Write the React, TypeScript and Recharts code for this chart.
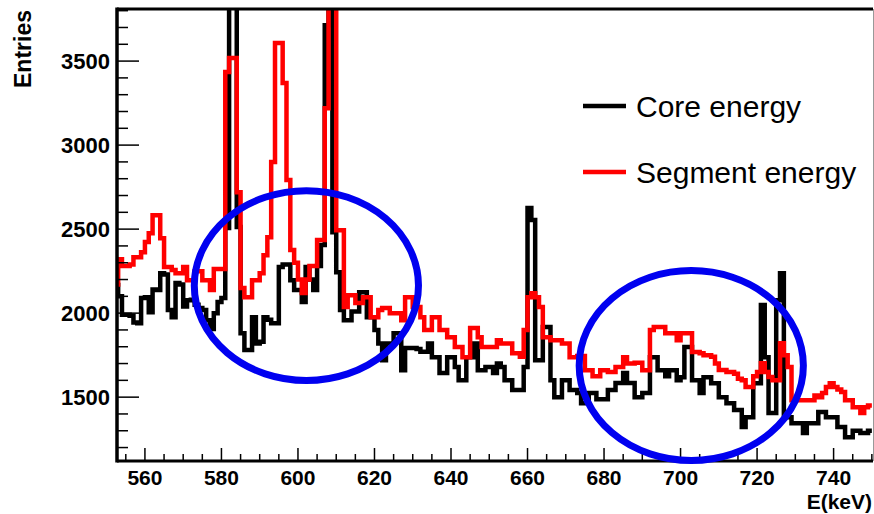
import { LineChart, Line, XAxis, YAxis } from 'recharts'

// 1 keV bins, first bin starts at BIN_LO
const BIN_LO = 552

const CORE = [
  2167, 2100, 1990, 1990, 1985, 1945, 1940, 2090, 2095, 2006,
  2140, 2137, 2238, 2230, 2018, 1976, 2179, 2170, 2040, 2077,
  2080, 2050, 2030, 2018, 1958, 1905, 2000, 2066, 2090, 2506,
  4300, 4300, 2512, 1880, 1780, 1780, 1976, 1820, 1830, 1976,
  1960, 1940, 1940, 2274, 2290, 2290, 2196, 2137, 2137, 2066,
  2274, 2200, 2137, 2280, 2405, 3714, 4300, 2482, 2244, 2018,
  1958, 1958, 2010, 2010, 2125, 2125, 1976, 1976, 1899, 1820,
  1720, 1820, 1820, 1880, 1880, 1660, 1792, 1792, 1792, 1786,
  1770, 1770, 1820, 1738, 1738, 1643, 1643, 1738, 1738, 1679,
  1601, 1601, 1738, 1738, 1820, 1660, 1660, 1680, 1680, 1643,
  1700, 1680, 1601, 1601, 1542, 1542, 1542, 1679, 2625, 2554,
  1720, 1720, 1917, 1917, 1601, 1500, 1500, 1601, 1601, 1542,
  1542, 1524, 1464, 1464, 1524, 1524, 1488, 1488, 1488, 1542,
  1542, 1584, 1584, 1643, 1584, 1584, 1500, 1500, 1524, 1524,
  1738, 1738, 1660, 1660, 1625, 1660, 1660, 1601, 1619, 1798,
  1798, 1601, 1601, 1524, 1619, 1619, 1583, 1583, 1500, 1500,
  1464, 1464, 1423, 1423, 1322, 1381, 1381, 1583, 1583, 2048,
  1738, 1405, 1405, 2077, 2238, 1381, 1381, 1345, 1345, 1345,
  1286, 1345, 1345, 1345, 1411, 1411, 1381, 1381, 1381, 1322,
  1322, 1262, 1262, 1300, 1300, 1286, 1286, 1300,
]

const SEGMENT = [
  2170, 2320, 2280, 2280, 2290, 2333, 2333, 2363, 2423, 2476,
  2583, 2583, 2446, 2274, 2274, 2256, 2238, 2238, 2274, 2196,
  2196, 2250, 2250, 2196, 2196, 2137, 2262, 2262, 2262, 3435,
  3518, 3518, 2720, 2150, 2095, 2095, 2196, 2196, 2238, 2345,
  2452, 2899, 3607, 3607, 3369, 2792, 2375, 2300, 2200, 2120,
  2200, 2280, 2280, 2435, 2435, 3220, 4300, 4300, 2494, 2494,
  2036, 2107, 2107, 2060, 2060, 2095, 2095, 1976, 1976, 2018,
  2030, 2030, 2000, 2000, 2000, 1958, 2095, 2095, 2036, 2036,
  1976, 1899, 1899, 1976, 1976, 1899, 1899, 1857, 1857, 1798,
  1798, 1738, 1738, 1911, 1911, 1857, 1798, 1798, 1798, 1798,
  1839, 1820, 1820, 1820, 1762, 1762, 1740, 1899, 2095, 2119,
  2095, 2036, 1857, 1857, 1839, 1839, 1839, 1820, 1820, 1738,
  1738, 1745, 1745, 1660, 1660, 1625, 1625, 1660, 1660, 1650,
  1650, 1679, 1679, 1738, 1700, 1700, 1705, 1705, 1660, 1660,
  1899, 1917, 1917, 1917, 1880, 1880, 1880, 1839, 1881, 1881,
  1881, 1768, 1768, 1762, 1750, 1750, 1740, 1700, 1661, 1661,
  1650, 1650, 1640, 1610, 1601, 1560, 1560, 1625, 1650, 1702,
  1650, 1620, 1600, 1600, 1821, 1750, 1679, 1482, 1482, 1482,
  1482, 1482, 1482, 1510, 1500, 1524, 1560, 1583, 1560, 1545,
  1530, 1482, 1482, 1440, 1440, 1405, 1440, 1450,
]

const X_TICKS = [
  555, 560, 565, 570, 575, 580, 585, 590, 595, 600, 605, 610, 615, 620,
  625, 630, 635, 640, 645, 650, 655, 660, 665, 670, 675, 680, 685, 690,
  695, 700, 705, 710, 715, 720, 725, 730, 735, 740, 745, 750,
]
const Y_TICKS = [
  1200, 1300, 1400, 1500, 1600, 1700, 1800, 1900, 2000, 2100, 2200, 2300, 2400,
  2500, 2600, 2700, 2800, 2900, 3000, 3100, 3200, 3300, 3400, 3500, 3600, 3700, 3800,
]

// circled regions: centre (keV, entries) and half-axes
const MARK_E = [602.2, 702.8]
const MARK_N = [2164, 1688]
const MARK_RX = 29.3
const MARK_RY = 565

const X_DOMAIN: [number, number] = [552.7, 750.3]
const Y_DOMAIN: [number, number] = [1120, 3810]

const W = 874
const H = 514
const L = 117
const T = 9
const R = 873
const B = 461

const FONT = '"Liberation Sans", Arial, Helvetica, sans-serif'

const px = (e: number) => L + ((e - X_DOMAIN[0]) / (X_DOMAIN[1] - X_DOMAIN[0])) * (R - L)
const py = (n: number) => T + ((Y_DOMAIN[1] - n) / (Y_DOMAIN[1] - Y_DOMAIN[0])) * (B - T)

const rows = CORE.map((c, i) => ({ e: BIN_LO + i, core: c, seg: SEGMENT[i] }))
rows.push({ e: BIN_LO + CORE.length, core: CORE[CORE.length - 1], seg: SEGMENT[SEGMENT.length - 1] })

function XTick(props: any) {
  const { x, y, payload } = props
  const major = payload.value % 20 === 0
  return (
    <g>
      <line x1={x} x2={x} y1={y} y2={y - (major ? 13 : 7)} stroke="#000" strokeWidth={1.5} />
      {major && (
        <text x={x} y={y + 24} textAnchor="middle" fontFamily={FONT} fontWeight="bold" fontSize={21} fill="#000">
          {payload.value}
        </text>
      )}
    </g>
  )
}

function YTick(props: any) {
  const { x, y, payload } = props
  const major = payload.value % 500 === 0
  return (
    <g>
      <line x1={x} x2={x + (major ? 22 : 11)} y1={y} y2={y} stroke="#000" strokeWidth={1.5} />
      {major && (
        <text x={x - 7} y={y + 8} textAnchor="end" fontFamily={FONT} fontWeight="bold" fontSize={22} fill="#000">
          {payload.value}
        </text>
      )}
    </g>
  )
}

export default function App() {
  return (
    <div style={{ position: 'absolute', left: 0, top: 0, width: W, height: H, background: '#fff' }}>
      <LineChart width={W} height={H} data={rows} margin={{ top: T, right: W - R, bottom: 0, left: 0 }}>
        <XAxis
          dataKey="e"
          type="number"
          domain={X_DOMAIN}
          allowDataOverflow
          ticks={X_TICKS}
          interval={0}
          tick={XTick}
          tickSize={0}
          tickMargin={0}
          tickLine={false}
          axisLine={false}
          height={H - B}
        />
        <YAxis
          type="number"
          domain={Y_DOMAIN}
          allowDataOverflow
          ticks={Y_TICKS}
          interval={0}
          tick={YTick}
          tickSize={0}
          tickMargin={0}
          tickLine={false}
          axisLine={false}
          width={L}
        />
        <Line type="stepAfter" dataKey="core" stroke="#000" strokeWidth={4.5} dot={false} isAnimationActive={false} />
        <Line type="stepAfter" dataKey="seg" stroke="#ff0000" strokeWidth={4.5} dot={false} isAnimationActive={false} />
      </LineChart>
      <svg width={W} height={H} style={{ position: 'absolute', left: 0, top: 0, pointerEvents: 'none' }}>
        <line x1={L} x2={R} y1={T} y2={T} stroke="#000" strokeWidth={3} />
        <line x1={L} x2={L} y1={T - 1.5} y2={B + 1.5} stroke="#000" strokeWidth={3.5} />
        <line x1={L} x2={R} y1={B} y2={B} stroke="#000" strokeWidth={3} />
        <line x1={R + 0.5} x2={R + 0.5} y1={T} y2={B} stroke="#999" strokeWidth={1} />
        {MARK_E.map((e, i) => (
          <ellipse
            key={i}
            cx={px(e)}
            cy={py(MARK_N[i])}
            rx={px(e + MARK_RX) - px(e)}
            ry={py(MARK_N[i] - MARK_RY) - py(MARK_N[i])}
            fill="none"
            stroke="#0000f0"
            strokeWidth={7}
          />
        ))}
        <line x1={583} x2={626} y1={106} y2={106} stroke="#000" strokeWidth={4.5} />
        <text x={636} y={117} fontFamily={FONT} fontSize={30} fill="#000">Core energy</text>
        <line x1={583} x2={626} y1={172} y2={172} stroke="#ff0000" strokeWidth={4.5} />
        <text x={636} y={183} fontFamily={FONT} fontSize={30} fill="#000">Segment energy</text>
        <text
          x={31}
          y={10}
          transform="rotate(-90 31 10)"
          textAnchor="end"
          fontFamily={FONT}
          fontWeight="bold"
          fontSize={23}
          fill="#000"
        >
          Entries
        </text>
        <text x={872} y={509} textAnchor="end" fontFamily={FONT} fontWeight="bold" fontSize={21} fill="#000">
          E(keV)
        </text>
      </svg>
    </div>
  )
}
